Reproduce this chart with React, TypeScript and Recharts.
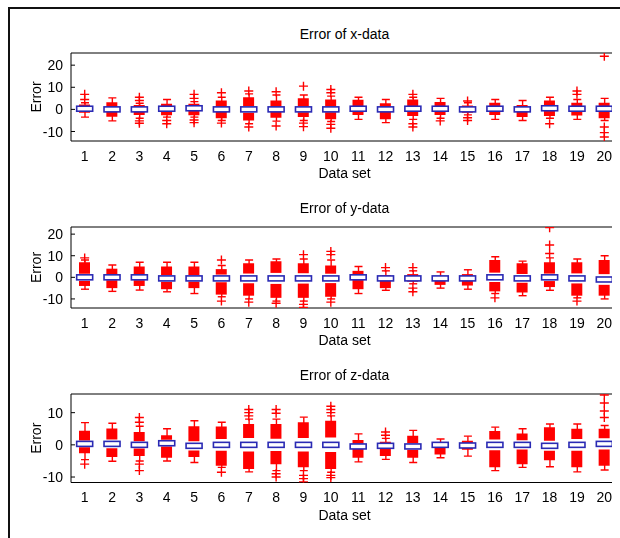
import { ComposedChart, Bar, Scatter, XAxis, YAxis, ReferenceArea } from 'recharts'

// data sets 1..20 (category labels and numeric positions)
const SETS = ['1', '2', '3', '4', '5', '6', '7', '8', '9', '10', '11', '12', '13', '14', '15', '16', '17', '18', '19', '20']
const SET_TICKS = [1, 2, 3, 4, 5, 6, 7, 8, 9, 10, 11, 12, 13, 14, 15, 16, 17, 18, 19, 20]

// Error of x-data
const X_Q1 = [-1.5, -3.3, -2.5, -2.6, -2.6, -4, -5, -3.8, -3.5, -4.5, -2.5, -4.5, -3, -2.5, -1.5, -2.5, -3.5, -3, -2.8, -4]
const X_MED = [0.3, 0, 0, 0.3, 0.5, 0, 0, 0, 0, 0, 0.3, 0, 0.3, 0.3, 0, 0.3, 0, 0.5, 0.3, 0.3]
const X_Q3 = [2.2, 3.2, 2, 2.6, 2.6, 4, 5.5, 4, 5, 4.5, 4.3, 2.8, 4.5, 3.3, 1.8, 3, 2, 4, 3, 3]
const X_LO = [-3.5, -5.2, -4, -3.5, -3.5, -5, -6.5, -5.3, -5, -5.5, -4.5, -6, -4.5, -4, -2.5, -4.5, -5, -4, -4.5, -5]
const X_HI = [3, 5.2, 2.8, 4.5, 3.5, 5.5, 7, 6.5, 6.5, 6, 5.5, 4.5, 5.5, 5, 3, 4.5, 4, 5.5, 4.5, 5]
const X_OUT = [
  [4.5, 6.8], [], [4, 5.5, -5.2, -6.3], [-5, -6.5], [5, 6.8, -4.8, -6],
  [7.5, -6.2], [8.3, -8], [8, -7.5], [10.5, -6.2, -7.8], [7.5, 9, -6.8, -8.5],
  [], [], [6.8, -6.5, -8], [-5.2], [3.8, -3.8, -5],
  [], [], [-6.5], [6.8, 8.3], [24, -8, -10.5, -12.5],
]

// Error of y-data
const Y_Q1 = [-4, -5, -4, -5.5, -5, -8, -8.5, -9.5, -9.5, -9, -5.5, -5, -2, -3.5, -3.8, -6.5, -7, -4.5, -8.5, -8.5]
const Y_MED = [0, 0, 0, -0.5, -0.5, -0.5, -0.5, -0.5, -0.5, -0.5, 0, -0.5, -0.5, -0.5, -0.5, 0, -0.5, 0, -0.5, -1]
const Y_Q3 = [7, 4, 5, 5, 5, 3.8, 6.5, 7.5, 6.5, 5.5, 3, 1, 1.5, 0.3, 1.5, 8, 6.5, 7, 7, 8]
const Y_LO = [-5.5, -6.5, -5.9, -6.7, -7.5, -9, -10, -11, -11, -10, -7.5, -6, -3, -5, -5.5, -7.5, -8.5, -6, -9.5, -10]
const Y_HI = [8, 5.7, 7, 7, 7, 5.5, 8, 8.5, 8.5, 8, 5, 3, 3, 2.5, 3.5, 9.5, 7.5, 9, 8.5, 10]
const Y_OUT = [
  [9], [], [], [], [],
  [8, -11], [-11.5], [-12], [10.5, -12.5, -14], [10.5, 12, -11.5],
  [], [4.5], [4.5, -5, -6.7], [], [],
  [-9.5], [], [11, 15, 23], [-11], [],
]

// Error of z-data
const Z_Q1 = [-2.6, -3.8, -3.5, -4, -3.8, -6.5, -7.5, -6, -7, -7.5, -4, -3.5, -4, -3, -1.5, -7, -6, -4.8, -7, -6.5]
const Z_MED = [0.3, 0.3, 0, 0.5, -0.3, 0, 0, 0, 0, 0, -0.5, -0.3, -0.5, 0, -0.2, 0, 0, -0.3, 0, 0.3]
const Z_Q3 = [4.4, 5.1, 4, 3, 5.8, 5.7, 6.5, 6.5, 7, 7.5, 1.5, 1, 2.8, 0.5, 1.3, 4.3, 3.5, 5.5, 5, 5]
const Z_LO = [-4.6, -5.1, -5, -5, -5.5, -7, -8.4, -8, -8, -8.5, -5.3, -4.5, -5.5, -4, -3.5, -8, -7, -6.8, -8.4, -7.8]
const Z_HI = [6.9, 6.7, 5.8, 5, 7.5, 7, 8, 8, 8.6, 9, 3.4, 2, 4.5, 1.8, 2.7, 5.5, 5, 6.5, 6.5, 6]
const Z_OUT = [
  [-6], [], [7, 8.5, -6, -8], [], [],
  [-8.5], [9, 10, 11], [9.8, 11, -9, -10], [-9.5, -10.5, -11.5], [10, 11, 12, -9.5, -10.2],
  [], [3, 4], [], [], [],
  [], [], [], [], [8.5, 10.5, 13, 15.5],
]

const RED = '#ff0000'
const BLUE = '#2a2ab4'
const FONT = '"Liberation Sans", Arial, Helvetica, sans-serif'
const M_TOP = 40
const X_AXIS_H = 45

function Whisker(props: any) {
  const { x, y, width, height } = props
  if (x == null || y == null) return null
  const cx = x + width / 2
  return (
    <g stroke={RED} strokeWidth={1.4}>
      <line x1={cx} y1={y} x2={cx} y2={y + height} />
      <line x1={x} y1={y} x2={x + width} y2={y} />
      <line x1={x} y1={y + height} x2={x + width} y2={y + height} />
    </g>
  )
}

function Median(props: any) {
  const { cx, cy } = props
  if (cx == null || cy == null) return null
  return <rect x={cx - 8} y={cy - 2.5} width={16} height={5} fill="#fff" stroke={BLUE} strokeWidth={1.6} />
}

function Plus(props: any) {
  const { cx, cy } = props
  if (cx == null || cy == null) return null
  return <path d={`M${cx - 4.5},${cy}H${cx + 4.5}M${cx},${cy - 4.5}V${cy + 4.5}`} stroke={RED} strokeWidth={1.4} fill="none" />
}

// left tick: label plus a short inward tick mark
function LeftTick(props: any) {
  const { x, y, payload } = props
  return (
    <g>
      <text x={x} y={y} dy="0.36em" textAnchor="end" fill="#000" fontSize={14} fontFamily={FONT}>
        {payload.value}
      </text>
      <line x1={x + 8} x2={x + 12} y1={y} y2={y} stroke="#000" />
    </g>
  )
}

function RightTick(props: any) {
  const { x, y } = props
  return <line x1={x - 5} x2={x - 1} y1={y} y2={y} stroke="#000" />
}

interface PanelProps {
  title: string
  q1: number[]
  med: number[]
  q3: number[]
  lo: number[]
  hi: number[]
  out: number[][]
  yDomain: [number, number]
  yTicks: number[]
  plotTop: number
  plotBottom: number
}

function BoxPanel({ title, q1, med, q3, lo, hi, out, yDomain, yTicks, plotTop, plotBottom }: PanelProps) {
  const rows = SETS.map((set, i) => {
    // notch half-width around the median, drawn as a white gap in the box
    const notch = 0.15 * (q3[i] - q1[i])
    return {
      set,
      whisker: [lo[i], hi[i]],
      box: [q1[i], q3[i]],
      notch: [med[i] - notch, med[i] + notch],
    }
  })
  const medians = SET_TICKS.map((x, i) => ({ x, y: med[i] }))
  const outliers = out.flatMap((vals, i) => vals.map((y) => ({ x: SET_TICKS[i], y })))

  const top = plotTop - 8 - M_TOP
  const height = plotBottom - plotTop + M_TOP + X_AXIS_H

  return (
    <>
      <div
        style={{
          position: 'absolute',
          left: 63,
          width: 547,
          top: plotTop - 8 - 19 - 9,
          height: 18,
          lineHeight: '18px',
          textAlign: 'center',
          fontSize: 14,
          color: '#000',
        }}
      >
        {title}
      </div>
      <div style={{ position: 'absolute', left: 0, top }}>
        <ComposedChart width={612} height={height} data={rows} margin={{ top: M_TOP, right: 1, bottom: 0, left: 0 }}>
          <XAxis
            xAxisId="num"
            type="number"
            dataKey="x"
            domain={[0.5, 20.5]}
            allowDataOverflow
            ticks={SET_TICKS}
            interval={0}
            height={X_AXIS_H}
            tickLine={false}
            axisLine={false}
            tickSize={0}
            tickMargin={10}
            tick={{ fill: '#000', fontSize: 14, fontFamily: FONT }}
            label={{ value: 'Data set', position: 'insideBottom', offset: 8, fill: '#000', fontSize: 14, fontFamily: FONT }}
          />
          <XAxis xAxisId="w" dataKey="set" hide height={0} />
          <XAxis xAxisId="b" dataKey="set" hide height={0} />
          <XAxis xAxisId="n" dataKey="set" hide height={0} />
          <YAxis
            type="number"
            domain={yDomain}
            allowDataOverflow
            ticks={yTicks}
            interval={0}
            width={63}
            tickSize={0}
            tickMargin={8}
            tickLine={false}
            axisLine={false}
            tick={(p: any) => <LeftTick {...p} />}
            label={{
              value: 'Error',
              angle: -90,
              position: 'insideLeft',
              offset: 28,
              fill: '#000',
              fontSize: 14,
              fontFamily: FONT,
              style: { textAnchor: 'middle' },
            }}
          />
          <YAxis
            yAxisId="r"
            orientation="right"
            type="number"
            domain={yDomain}
            allowDataOverflow
            ticks={yTicks}
            interval={0}
            width={1}
            tickSize={0}
            tickMargin={0}
            tickLine={false}
            axisLine={false}
            tick={(p: any) => <RightTick {...p} />}
          />
          <ReferenceArea
            xAxisId="num"
            x1={0.5}
            x2={20.5}
            y1={yDomain[0]}
            y2={yDomain[1]}
            fill="none"
            fillOpacity={0}
            stroke="#000"
            strokeWidth={1}
            ifOverflow="visible"
          />
          <Bar xAxisId="w" dataKey="whisker" barSize={8} shape={(p: any) => <Whisker {...p} />} isAnimationActive={false} />
          <Bar xAxisId="b" dataKey="box" barSize={11} fill={RED} isAnimationActive={false} />
          <Bar xAxisId="n" dataKey="notch" barSize={13} fill="#fff" isAnimationActive={false} />
          <Scatter xAxisId="num" yAxisId="r" data={outliers} dataKey="y" shape={(p: any) => <Plus {...p} />} isAnimationActive={false} />
          <Scatter xAxisId="num" data={medians} dataKey="y" shape={(p: any) => <Median {...p} />} isAnimationActive={false} />
        </ComposedChart>
      </div>
    </>
  )
}

export default function App() {
  return (
    <div style={{ position: 'relative', width: 612, height: 520, fontFamily: FONT, background: '#fff' }}>
      <div style={{ position: 'fixed', left: 8, top: 7, width: 612, height: 2, background: '#111' }} />
      <div style={{ position: 'fixed', left: 8, top: 7, width: 2, height: 531, background: '#111' }} />
      <BoxPanel
        title="Error of x-data"
        q1={X_Q1}
        med={X_MED}
        q3={X_Q3}
        lo={X_LO}
        hi={X_HI}
        out={X_OUT}
        yDomain={[-14.3, 25.5]}
        yTicks={[-10, 0, 10, 20]}
        plotTop={52.5}
        plotBottom={140.5}
      />
      <BoxPanel
        title="Error of y-data"
        q1={Y_Q1}
        med={Y_MED}
        q3={Y_Q3}
        lo={Y_LO}
        hi={Y_HI}
        out={Y_OUT}
        yDomain={[-14.2, 23.3]}
        yTicks={[-10, 0, 10, 20]}
        plotTop={227}
        plotBottom={308}
      />
      <BoxPanel
        title="Error of z-data"
        q1={Z_Q1}
        med={Z_MED}
        q3={Z_Q3}
        lo={Z_LO}
        hi={Z_HI}
        out={Z_OUT}
        yDomain={[-11.7, 15.8]}
        yTicks={[-10, 0, 10]}
        plotTop={394}
        plotBottom={482.5}
      />
    </div>
  )
}
